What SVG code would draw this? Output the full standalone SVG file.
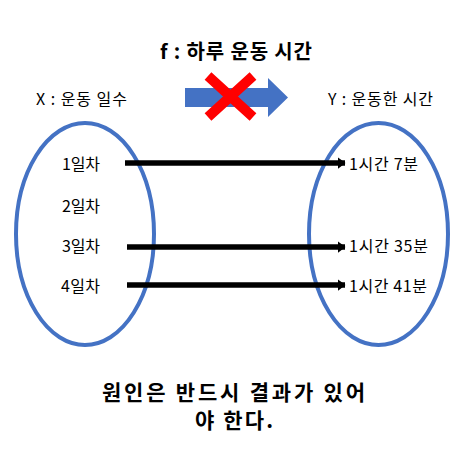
<svg xmlns="http://www.w3.org/2000/svg" width="470" height="449" viewBox="0 0 470 449">
<style>
text{font-family:"Noto Sans CJK KR","Noto Sans",sans-serif;fill:#000}
.lbl{font-size:16px}
.bold{font-weight:bold}
.set{fill:none;stroke:#4472C4;stroke-width:4}
.conn{stroke:#000;stroke-width:5.5;fill:none}
</style>
<defs>
<marker id="ah" viewBox="0 0 8 12" refX="7.5" refY="6" markerWidth="8" markerHeight="12" markerUnits="userSpaceOnUse" orient="auto">
<path d="M0,0 L8,6 L0,12 Z" fill="#000"/>
</marker>
</defs>
<rect width="470" height="449" fill="#fff"/>
<text class="bold" x="160" y="59" font-size="20" textLength="152" lengthAdjust="spacing">f : 하루 운동 시간</text>
<g id="X-label"><text class="lbl" x="36" y="105" textLength="91" lengthAdjust="spacing">X : 운동 일수</text></g>
<g id="Y-label"><text class="lbl" x="328" y="105" textLength="105" lengthAdjust="spacing">Y : 운동한 시간</text></g>
<g id="f-arrow">
<path d="M185,88 H268 V78 L288,97.5 L268,117 V107 H185 Z" fill="#4472C4"/>
<path d="M208,76 L253,117 M253,76 L208,117" stroke="#FF0000" stroke-width="10"/>
</g>
<g id="setX">
<ellipse class="set" cx="85" cy="234" rx="69" ry="111"/>
<text class="lbl" x="62" y="170" textLength="38" lengthAdjust="spacing">1일차</text>
<text class="lbl" x="62" y="212" textLength="38" lengthAdjust="spacing">2일차</text>
<text class="lbl" x="62" y="252" textLength="38" lengthAdjust="spacing">3일차</text>
<text class="lbl" x="61" y="292" textLength="39" lengthAdjust="spacing">4일차</text>
</g>
<g id="setY">
<ellipse class="set" cx="378.5" cy="234" rx="69.5" ry="111"/>
<text class="lbl" x="349" y="170" textLength="69" lengthAdjust="spacing">1시간 7분</text>
<text class="lbl" x="349" y="252" textLength="79" lengthAdjust="spacing">1시간 35분</text>
<text class="lbl" x="349" y="292" textLength="78" lengthAdjust="spacing">1시간 41분</text>
</g>
<g id="connectors">
<line class="conn" x1="125" y1="163" x2="345" y2="163" marker-end="url(#ah)"/>
<line class="conn" x1="127" y1="247" x2="345" y2="247" marker-end="url(#ah)"/>
<line class="conn" x1="127" y1="285" x2="345" y2="285" marker-end="url(#ah)"/>
</g>
<g id="caption">
<text class="bold" x="102" y="400" font-size="21" textLength="263" lengthAdjust="spacing">원인은 반드시 결과가 있어</text>
<text class="bold" x="195" y="428" font-size="21" textLength="78" lengthAdjust="spacing">야 한다.</text>
</g>
</svg>
